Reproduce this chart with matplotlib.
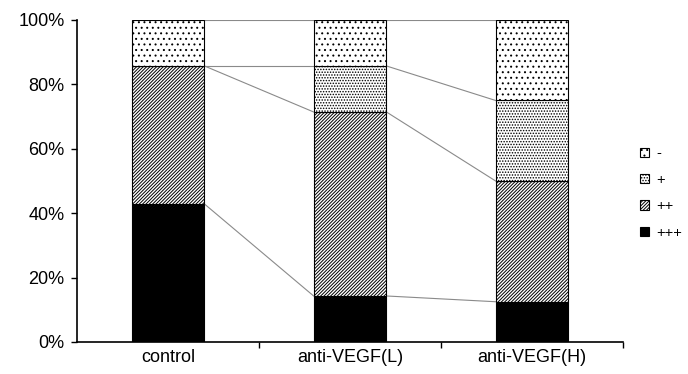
import matplotlib
matplotlib.use("Agg")
import matplotlib.pyplot as plt
import numpy as np

plt.rcParams['font.family'] = ['Liberation Sans', 'DejaVu Sans']
plt.rcParams['hatch.linewidth'] = 0.7

# data (percent of each grade per group)
groups = ['control', 'anti-VEGF(L)', 'anti-VEGF(H)']
grades = ['+++', '++', '+', '-']
pct_3plus = [42.86, 14.29, 12.5]
pct_2plus = [42.86, 57.14, 37.5]
pct_1plus = [0.0, 14.29, 25.0]
pct_neg = [14.28, 14.28, 25.0]

series = [pct_3plus, pct_2plus, pct_1plus, pct_neg]
faces = ['black', 'white', 'white', 'white']
hatches = [None, '/' * 10, '.' * 6, '.' * 3]

fig = plt.figure(figsize=(6.88, 3.74), dpi=100)
ax = fig.add_axes([0.112, 0.0856, 0.7935, 0.861])

x = np.arange(len(groups))
w = 0.4
bottom = np.zeros(len(groups))
handles = []
for vals, fc, h, name in zip(series, faces, hatches, grades):
    vals = np.array(vals)
    b = ax.bar(x, vals, w, bottom=bottom, color=fc, edgecolor='black',
               linewidth=0.8, hatch=h, label=name, zorder=2)
    handles.append(b)
    bottom = bottom + vals
    # series lines between bar tops
    for i in range(len(groups) - 1):
        ax.plot([x[i] + w / 2, x[i + 1] - w / 2], [bottom[i], bottom[i + 1]],
                color='#8a8a8a', linewidth=0.8, zorder=1)

ax.set_xlim(-0.5, 2.5)
ax.set_ylim(0, 100)
ax.set_yticks(range(0, 101, 20))
ax.set_yticklabels([f'{v}%' for v in range(0, 101, 20)], fontsize=13)
ax.set_xticks([0.5, 1.5, 2.5])
ax.set_xticklabels([])
ax.set_xticks(x, minor=True)
ax.set_xticklabels(groups, minor=True, fontsize=13)
ax.tick_params(axis='x', which='minor', length=0, pad=5)
ax.tick_params(axis='x', which='major', length=4, width=1)
ax.tick_params(axis='y', length=4, width=1, pad=5)
for s in ['top', 'right']:
    ax.spines[s].set_visible(False)
for s in ['left', 'bottom']:
    ax.spines[s].set_linewidth(1.2)

fig.legend(handles[::-1], grades[::-1], loc='center left',
           bbox_to_anchor=(0.930, 0.484), frameon=False, fontsize=10.5,
           borderaxespad=0, borderpad=0,
           handlelength=0.6, handleheight=0.6, handletextpad=0.5,
           labelspacing=0.85)

fig.savefig('out.png', dpi=100)
